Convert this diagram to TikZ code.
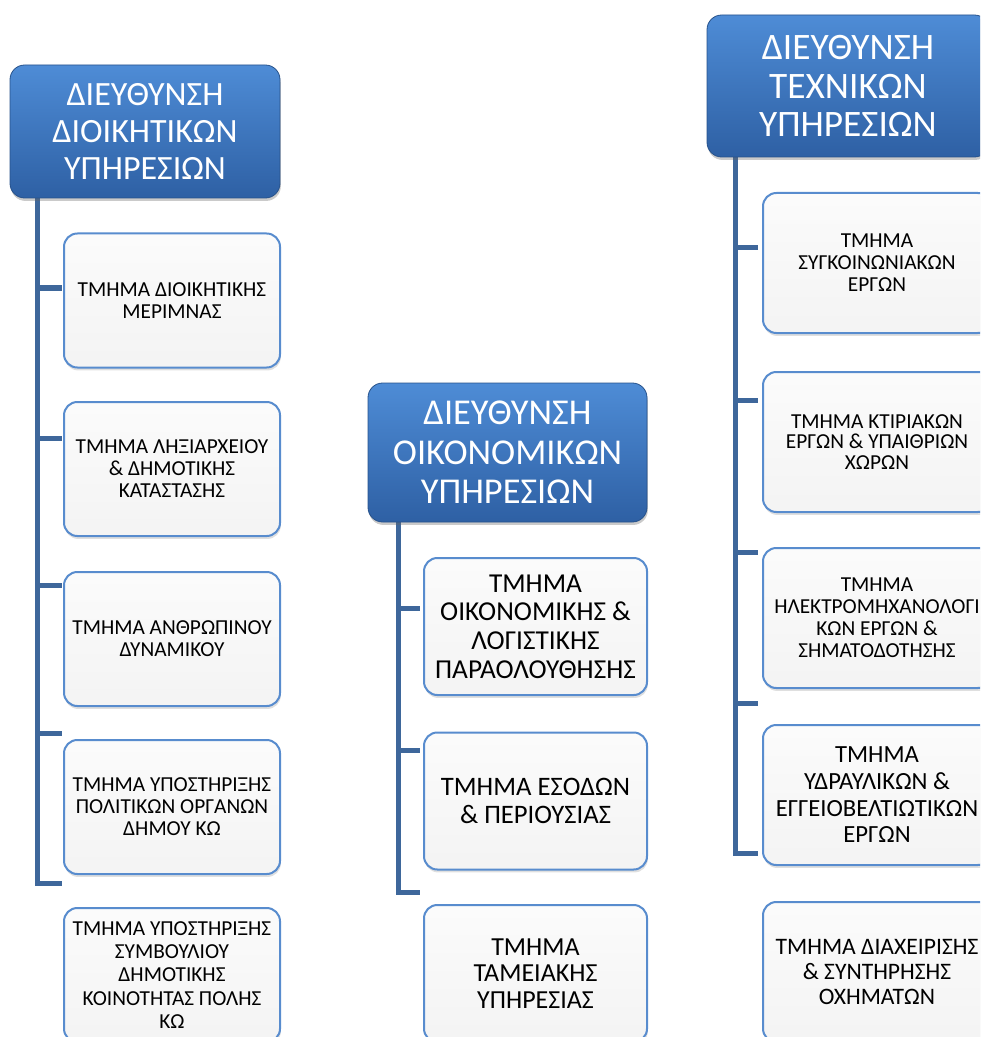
\documentclass[tikz,border=0pt]{standalone}
\usepackage{fontspec}
\setmainfont{Carlito}
\usetikzlibrary{shadows}
\definecolor{conncol}{RGB}{62,103,155}
\definecolor{kidborder}{RGB}{88,140,206}
\definecolor{headtop}{RGB}{78,140,214}
\definecolor{headbot}{RGB}{46,96,164}
\tikzset{
  headbox/.style n args={3}{draw=headbot!85!black, line width=0.6pt, rounded corners=11pt,
    top color=headtop, bottom color=headbot, text=white, align=center,
    font=\fontsize{#1}{#2}\selectfont, inner sep=0pt,
    drop shadow={shadow xshift=0.6pt, shadow yshift=-2.2pt, opacity=0.35, fill=black!60},
    minimum width=#3*0.75pt},
  kidbox/.style n args={2}{draw=kidborder, line width=1.5pt, rounded corners=10pt,
    top color=white!97!gray, bottom color=white!91!gray, text=black, align=center,
    font=\fontsize{#1}{#2}\selectfont, inner sep=0pt,
    drop shadow={shadow xshift=0.6pt, shadow yshift=-2.2pt, opacity=0.25, fill=black!50}},
  conn/.style={draw=conncol, line width=3.75pt, line join=miter, line cap=butt},
}
\begin{document}
\begin{tikzpicture}[x=0.75pt, y=-0.75pt]
\path[use as bounding box] (0,0) rectangle (980,1037);
\clip (0,0) rectangle (980,1037);
% ---- coordinates for connectors
\coordinate (lt) at (37,198);
\coordinate (bL1) at (37,288); \coordinate (eL1) at (62,288);
\coordinate (bL2) at (37,438); \coordinate (eL2) at (62,438);
\coordinate (bL3) at (37,585); \coordinate (eL3) at (62,585);
\coordinate (bL4) at (37,733); \coordinate (eL4) at (62,733);
\coordinate (bL5) at (37,883); \coordinate (eL5) at (62,883);
\coordinate (mt) at (398,522);
\coordinate (bM1) at (398,608); \coordinate (eM1) at (420,608);
\coordinate (bM2) at (398,750); \coordinate (eM2) at (420,750);
\coordinate (bM3) at (398,892); \coordinate (eM3) at (420,892);
\coordinate (rt) at (735,157);
\coordinate (bR1) at (735,248); \coordinate (eR1) at (758,248);
\coordinate (bR2) at (735,400); \coordinate (eR2) at (758,400);
\coordinate (bR3) at (735,552); \coordinate (eR3) at (758,552);
\coordinate (bR4) at (735,703); \coordinate (eR4) at (758,703);
\coordinate (bR5) at (735,853); \coordinate (eR5) at (758,853);
% ---- connectors
\draw[conn] (lt) -- (bL5) -- (eL5);
\draw[conn] (bL1) -- (eL1);
\draw[conn] (bL2) -- (eL2);
\draw[conn] (bL3) -- (eL3);
\draw[conn] (bL4) -- (eL4);
\draw[conn] (mt) -- (bM3) -- (eM3);
\draw[conn] (bM1) -- (eM1);
\draw[conn] (bM2) -- (eM2);
\draw[conn] (rt) -- (bR5) -- (eR5);
\draw[conn] (bR1) -- (eR1);
\draw[conn] (bR2) -- (eR2);
\draw[conn] (bR3) -- (eR3);
\draw[conn] (bR4) -- (eR4);
% ---- headers
\node[headbox={25.5pt}{28pt}{270}, minimum height=133*0.75pt] (hL) at (145,131.5)
  {ΔΙΕΥΘΥΝΣΗ\\ΔΙΟΙΚΗΤΙΚΩΝ\\ΥΠΗΡΕΣΙΩΝ};
\node[headbox={27.3pt}{29.5pt}{279}, minimum height=139*0.75pt] (hM) at (507.5,452.5)
  {ΔΙΕΥΘΥΝΣΗ\\ΟΙΚΟΝΟΜΙΚΩΝ\\ΥΠΗΡΕΣΙΩΝ};
\node[headbox={28pt}{29pt}{282}, minimum height=142*0.75pt] (hR) at (848,86)
  {ΔΙΕΥΘΥΝΣΗ\\ΤΕΧΝΙΚΩΝ\\ΥΠΗΡΕΣΙΩΝ};
% ---- left column
\tikzset{lkid/.style={minimum width=216*0.75pt, minimum height=134*0.75pt}}
\node[kidbox={16pt}{16.5pt}, lkid] (L1) at (172,300.5) {ΤΜΗΜΑ ΔΙΟΙΚΗΤΙΚΗΣ\\ΜΕΡΙΜΝΑΣ};
\node[kidbox={16pt}{16.5pt}, lkid] (L2) at (172,469) {ΤΜΗΜΑ ΛΗΞΙΑΡΧΕΙΟΥ\\\& ΔΗΜΟΤΙΚΗΣ\\ΚΑΤΑΣΤΑΣΗΣ};
\node[kidbox={16pt}{16.5pt}, lkid] (L3) at (172,639) {ΤΜΗΜΑ ΑΝΘΡΩΠΙΝΟΥ\\ΔΥΝΑΜΙΚΟΥ};
\node[kidbox={16pt}{16.5pt}, lkid] (L4) at (172,807) {ΤΜΗΜΑ ΥΠΟΣΤΗΡΙΞΗΣ\\ΠΟΛΙΤΙΚΩΝ ΟΡΓΑΝΩΝ\\ΔΗΜΟΥ ΚΩ};
\node[kidbox={16pt}{17.5pt}, lkid] (L5) at (172,975) {ΤΜΗΜΑ ΥΠΟΣΤΗΡΙΞΗΣ\\ΣΥΜΒΟΥΛΙΟΥ\\ΔΗΜΟΤΙΚΗΣ\\ΚΟΙΝΟΤΗΤΑΣ ΠΟΛΗΣ\\ΚΩ};
% ---- middle column
\tikzset{mkid/.style={minimum width=223*0.75pt, minimum height=137*0.75pt}}
\node[kidbox={20.5pt}{21.5pt}, mkid] (M1) at (535.5,626.5) {ΤΜΗΜΑ\\ΟΙΚΟΝΟΜΙΚΗΣ \&\\ΛΟΓΙΣΤΙΚΗΣ\\ΠΑΡΑΟΛΟΥΘΗΣΗΣ};
\node[kidbox={20pt}{21pt}, mkid] (M2) at (535.5,801) {ΤΜΗΜΑ ΕΣΟΔΩΝ\\\& ΠΕΡΙΟΥΣΙΑΣ};
\node[kidbox={19.5pt}{20pt}, mkid] (M3) at (535.5,973.5) {ΤΜΗΜΑ\\ΤΑΜΕΙΑΚΗΣ\\ΥΠΗΡΕΣΙΑΣ};
% ---- right column
\tikzset{rkid/.style={minimum width=228*0.75pt, minimum height=140*0.75pt}}
\node[kidbox={16pt}{16.5pt}, rkid] (R1) at (877,263) {ΤΜΗΜΑ\\ΣΥΓΚΟΙΝΩΝΙΑΚΩΝ\\ΕΡΓΩΝ};
\node[kidbox={16pt}{15.5pt}, rkid] (R2) at (877,442) {ΤΜΗΜΑ ΚΤΙΡΙΑΚΩΝ\\ΕΡΓΩΝ \& ΥΠΑΙΘΡΙΩΝ\\ΧΩΡΩΝ};
\node[kidbox={16pt}{16.5pt}, rkid] (R3) at (877,618) {ΤΜΗΜΑ\\ΗΛΕΚΤΡΟΜΗΧΑΝΟΛΟΓΙ\\ΚΩΝ ΕΡΓΩΝ \&\\ΣΗΜΑΤΟΔΟΤΗΣΗΣ};
\node[kidbox={18.5pt}{20pt}, rkid] (R4) at (877,795) {ΤΜΗΜΑ\\ΥΔΡΑΥΛΙΚΩΝ \&\\ΕΓΓΕΙΟΒΕΛΤΙΩΤΙΚΩΝ\\ΕΡΓΩΝ};
\node[kidbox={17.7pt}{18.5pt}, rkid] (R5) at (877,972) {ΤΜΗΜΑ ΔΙΑΧΕΙΡΙΣΗΣ\\\& ΣΥΝΤΗΡΗΣΗΣ\\ΟΧΗΜΑΤΩΝ};
\end{tikzpicture}
\end{document}
